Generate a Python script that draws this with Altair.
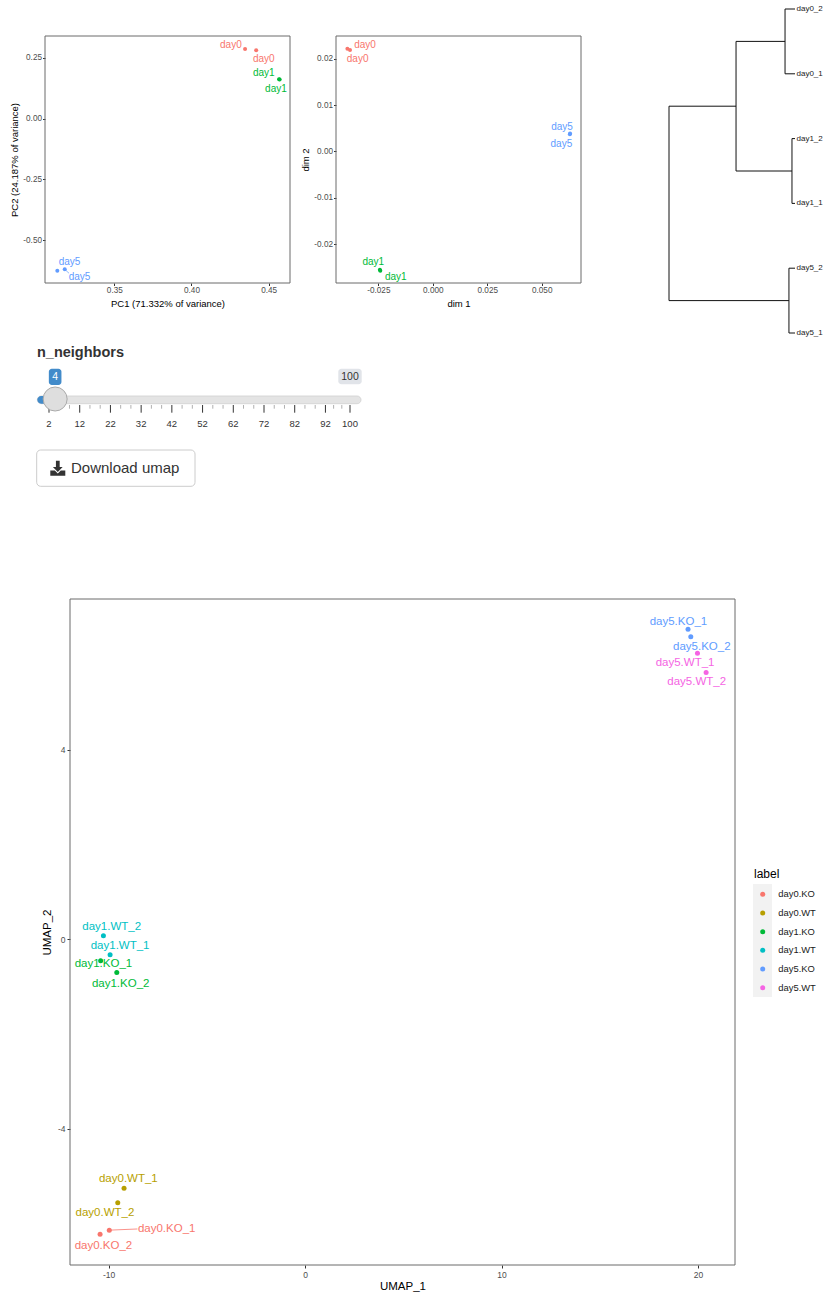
import altair as alt
import pandas as pd

FONT = "Liberation Sans"
MINUS_FIX = "replace(datum.label, '\u2212', '-')"

# ---------------- PCA panel ----------------
pca_groups = ["day0", "day1", "day5"]
pca_colors = ["#F8766D", "#00BA38", "#619CFF"]
pca_sample = ["day0", "day0", "day1", "day1", "day5", "day5"]
pca_pc1 = [0.4347, 0.4419, 0.4567, 0.4571, 0.3131, 0.3179]
pca_pc2 = [0.2870, 0.2817, 0.1625, 0.1618, -0.6264, -0.6206]
pca_lab_x = [0.4255, 0.4468, 0.4468, 0.4547, 0.3210, 0.3275]
pca_lab_y = [0.3023, 0.2446, 0.1870, 0.1235, -0.5893, -0.6510]
pca_seg_group = ["day5"]
pca_seg_x = [0.3179]
pca_seg_y = [-0.6206]
pca_seg_x2 = [0.3207]
pca_seg_y2 = [-0.6371]
pca_x_ticks = [0.35, 0.40, 0.45]
pca_y_ticks = [0.25, 0.0, -0.25, -0.50]
pca_x_domain = [0.30512, 0.4638]
pca_y_domain = [-0.6771, 0.3406]

# ---------------- MDS panel ----------------
mds_sample = ["day0", "day0", "day1", "day1", "day5", "day5"]
mds_d1 = [-0.0392, -0.0380, -0.0243, -0.0241, 0.0630, 0.0629]
mds_d2 = [0.02216, 0.02188, -0.0255, -0.0257, 0.0039, 0.0037]
mds_lab_x = [-0.0311, -0.0345, -0.0273, -0.0170, 0.0593, 0.0590]
mds_lab_y = [0.02295, 0.01987, -0.02381, -0.02705, 0.00528, 0.00168]
mds_x_ticks = [-0.025, 0.0, 0.025, 0.050]
mds_y_ticks = [0.02, 0.01, 0.0, -0.01, -0.02]
mds_x_domain = [-0.04443, 0.06802]
mds_y_domain = [-0.02834, 0.02489]

# ---------------- Dendrogram ----------------
dendro_leaves = ["day0_2", "day0_1", "day1_2", "day1_1", "day5_2", "day5_1"]
dendro_merges = [
    ("day0_2", "day0_1", 0.079),
    ("day1_2", "day1_1", 0.024),
    ("m0", "m1", 0.468),
    ("day5_2", "day5_1", 0.048),
    ("m2", "m3", 1.0),
]

# ---------------- Slider ----------------
slider_label = "n_neighbors"
slider_min, slider_max, slider_value = 2, 100, 4
slider_ticks = [2, 12, 22, 32, 42, 52, 62, 72, 82, 92, 100]
button_text = "Download umap"

# ---------------- UMAP ----------------
umap_groups = ["day0.KO", "day0.WT", "day1.KO", "day1.WT", "day5.KO", "day5.WT"]
umap_colors = ["#F8766D", "#B79F00", "#00BA38", "#00BFC4", "#619CFF", "#F564E3"]
umap_names = ["day5.KO_1", "day5.KO_2", "day5.WT_1", "day5.WT_2",
              "day1.WT_2", "day1.WT_1", "day1.KO_1", "day1.KO_2",
              "day0.WT_1", "day0.WT_2", "day0.KO_1", "day0.KO_2"]
umap_group = ["day5.KO", "day5.KO", "day5.WT", "day5.WT",
              "day1.WT", "day1.WT", "day1.KO", "day1.KO",
              "day0.WT", "day0.WT", "day0.KO", "day0.KO"]
umap_x = [19.49, 19.63, 19.97, 20.41, -10.26, -9.92, -10.40, -9.58, -9.21, -9.53, -9.96, -10.43]
umap_y = [6.544, 6.382, 6.038, 5.629, 0.074, -0.327, -0.454, -0.700, -5.249, -5.559, -6.135, -6.219]
umap_lab_x = [19.00, 20.19, 19.34, 19.93, -9.84, -9.41, -10.26, -9.38, -8.99, -10.18, -7.04, -10.26]
umap_lab_y = [6.705, 6.177, 5.827, 5.432, 0.270, -0.137, -0.523, -0.932, -5.059, -5.764, -6.114, -6.466]
umap_seg_group = ["day0.KO"]
umap_seg_x = [-9.96]
umap_seg_y = [-6.135]
umap_seg_x2 = [-8.53]
umap_seg_y2 = [-6.11]
umap_x_ticks = [-10, 0, 10, 20]
umap_y_ticks = [4, 0, -4]
umap_x_domain = [-11.96, 21.88]
umap_y_domain = [-6.87, 7.18]
legend_title = "label"


def ax(orient, values, title, fmt=None, lab=8.2, tit=9.5, tick=2.5, pad=1,
       ext=11.7, tpad=3.5, offset=0):
    kw = dict(orient=orient, values=values, title=title, grid=False, domain=False,
              tickSize=tick, tickColor="#333333", tickWidth=1, labelFontSize=lab,
              labelColor="#4d4d4d", labelPadding=pad, titleFontSize=tit,
              titleFontWeight="normal", titleColor="#000000", minExtent=ext,
              maxExtent=ext, titlePadding=tpad, labelExpr=MINUS_FIX, offset=offset,
              labelFlush=False, labelFont=FONT, titleFont=FONT)
    if fmt:
        kw["format"] = fmt
    return alt.Axis(**kw)


def one():
    return alt.Data(values=[{}])


def frame(x0, x1, y0, y1):
    return alt.Chart(one()).mark_rect(fillOpacity=0, stroke="#6b6b6b", strokeWidth=1).encode(
        x=alt.value(x0), x2=alt.value(x1), y=alt.value(y0), y2=alt.value(y1))


# ---- PCA layer ----
pca_C = alt.Color("g:N", scale=alt.Scale(domain=pca_groups, range=pca_colors), legend=None)
pX = alt.X("x:Q", scale=alt.Scale(domain=pca_x_domain, range=[0, 245], nice=False, zero=False),
           axis=ax("bottom", pca_x_ticks, "PC1 (71.332% of variance)", ".2f", ext=11.7, tpad=3.5))
pY = alt.Y("y:Q", scale=alt.Scale(domain=pca_y_domain, range=[247, 0], nice=False, zero=False),
           axis=ax("left", pca_y_ticks, "PC2 (24.187% of variance)", ".2f", ext=22.2, tpad=3.3))
pca = alt.layer(
    alt.Chart(pd.DataFrame({"x": pca_seg_x, "y": pca_seg_y, "x2": pca_seg_x2, "y2": pca_seg_y2,
                            "g": pca_seg_group})).mark_rule(strokeWidth=0.7).encode(
        x=pX, y=pY, x2="x2:Q", y2="y2:Q", color=pca_C),
    alt.Chart(pd.DataFrame({"x": pca_pc1, "y": pca_pc2, "g": pca_sample})).mark_circle(
        size=16, opacity=1).encode(x=pX, y=pY, color=pca_C),
    alt.Chart(pd.DataFrame({"x": pca_lab_x, "y": pca_lab_y, "g": pca_sample})).mark_text(
        fontSize=10, align="center", baseline="middle").encode(x=pX, y=pY, color=pca_C, text="g:N"),
)

# ---- MDS layer ----
mX = alt.X("x:Q", scale=alt.Scale(domain=mds_x_domain, range=[291, 536], nice=False, zero=False),
           axis=ax("bottom", mds_x_ticks, "dim 1", ".3f", ext=11.7, tpad=3.5))
mY = alt.Y("y:Q", scale=alt.Scale(domain=mds_y_domain, range=[247, 0], nice=False, zero=False),
           axis=ax("left", mds_y_ticks, "dim 2", ".2f", ext=22.2, tpad=3.3, offset=-291))
mds = alt.layer(
    alt.Chart(pd.DataFrame({"x": mds_d1, "y": mds_d2, "g": mds_sample})).mark_circle(
        size=16, opacity=1).encode(x=mX, y=mY, color=pca_C),
    alt.Chart(pd.DataFrame({"x": mds_lab_x, "y": mds_lab_y, "g": mds_sample})).mark_text(
        fontSize=10, align="center", baseline="middle").encode(x=mX, y=mY, color=pca_C, text="g:N"),
)

# ---- Dendrogram layer ----
pos = {name: (0.0, float(i)) for i, name in enumerate(dendro_leaves)}
segs = []
for k, (a, b, h) in enumerate(dendro_merges):
    (ha, ya), (hb, yb) = pos[a], pos[b]
    segs.append(dict(x=ha, y=ya, x2=h, y2=ya))
    segs.append(dict(x=hb, y=yb, x2=h, y2=yb))
    segs.append(dict(x=h, y=ya, x2=h, y2=yb))
    pos[f"m{k}"] = (h, (ya + yb) / 2)
dX = alt.X("x:Q", scale=alt.Scale(domain=[0, 1], range=[750, 624], nice=False, zero=False), axis=None)
dY = alt.Y("y:Q", scale=alt.Scale(domain=[0, 5], range=[-27, 297], nice=False, zero=False), axis=None)
dendro = alt.layer(
    alt.Chart(pd.DataFrame(segs)).mark_rule(color="#111111", strokeWidth=1).encode(
        x=dX, y=dY, x2="x2:Q", y2="y2:Q"),
    alt.Chart(pd.DataFrame({"x": [0.0] * 6, "y": list(range(6)), "t": dendro_leaves})).mark_text(
        fontSize=8, align="left", baseline="middle", dx=1.5, color="#222222").encode(
        x=dX, y=dY, text="t:N"),
)

# ---- Slider layer ----
sX = alt.X("v:Q", scale=alt.Scale(domain=[slider_min, slider_max], range=[4, 305],
                                  nice=False, zero=False), axis=None)
minor = []
for a, b in zip(slider_ticks[:-1], slider_ticks[1:]):
    minor += [a + (b - a) / 3, a + 2 * (b - a) / 3]
slider = alt.layer(
    alt.Chart(one()).mark_rect(cornerRadius=4, fill="#e4e4e4", stroke="#cfcfcf", strokeWidth=0.8).encode(
        x=alt.value(-7.7), x2=alt.value(316), y=alt.value(360), y2=alt.value(367.7)),
    alt.Chart(pd.DataFrame({"v": [slider_min], "v2": [slider_value]})).mark_rect(
        cornerRadius=4, color="#428bca", xOffset=-11.7).encode(
        x=sX, x2="v2:Q", y=alt.value(360), y2=alt.value(367.7)),
    alt.Chart(pd.DataFrame({"v": minor})).mark_rule(color="#b0b0b0", strokeWidth=1).encode(
        x=sX, y=alt.value(369), y2=alt.value(372.7)),
    alt.Chart(pd.DataFrame({"v": slider_ticks})).mark_rule(color="#333333", strokeWidth=1).encode(
        x=sX, y=alt.value(369), y2=alt.value(376.7)),
    alt.Chart(pd.DataFrame({"v": slider_ticks, "t": [str(t) for t in slider_ticks]})).mark_text(
        fontSize=9.5, color="#333333", baseline="middle").encode(x=sX, y=alt.value(387.7), text="t:N"),
    alt.Chart(pd.DataFrame({"v": [slider_value]})).mark_circle(
        size=576, color="#dedede", opacity=1, stroke="#aaaaaa", strokeWidth=1).encode(
        x=sX, y=alt.value(363)),
    alt.Chart(pd.DataFrame({"v": [slider_value]})).mark_rect(
        cornerRadius=3, color="#428bca", xOffset=-6.3, x2Offset=6.3).encode(
        x=sX, x2="v:Q", y=alt.value(332.7), y2=alt.value(349)),
    alt.Chart(pd.DataFrame({"v": [slider_value], "t": [str(slider_value)]})).mark_text(
        fontSize=10.5, color="#ffffff", baseline="middle").encode(x=sX, y=alt.value(341), text="t:N"),
    alt.Chart(pd.DataFrame({"v": [slider_max]})).mark_rect(
        cornerRadius=3, color="#e1e4e9", xOffset=-11.7, x2Offset=11.7).encode(
        x=sX, x2="v:Q", y=alt.value(332.7), y2=alt.value(348.3)),
    alt.Chart(pd.DataFrame({"v": [slider_max], "t": [str(slider_max)]})).mark_text(
        fontSize=10.5, color="#333333", baseline="middle").encode(x=sX, y=alt.value(340.5), text="t:N"),
)

ui = alt.layer(
    alt.Chart(one()).mark_text(text=slider_label, fontSize=14.5, fontWeight="bold", color="#333333",
                               align="left", baseline="middle").encode(x=alt.value(-8), y=alt.value(316.7)),
    alt.Chart(one()).mark_rect(cornerRadius=4, fill="#ffffff", stroke="#cccccc", strokeWidth=1).encode(
        x=alt.value(-8.3), x2=alt.value(150), y=alt.value(414), y2=alt.value(450.3)),
    alt.Chart(one()).mark_point(
        shape="M-0.25,-1L0.25,-1L0.25,-0.15L0.65,-0.15L0,0.5L-0.65,-0.15L-0.25,-0.15Z"
              "M-1,0.3L-0.4,0.3L0,0.7L0.4,0.3L1,0.3L1,1L-1,1Z",
        size=225, filled=True, color="#333333", opacity=1).encode(x=alt.value(12.8), y=alt.value(432.2)),
    alt.Chart(one()).mark_text(text=button_text, fontSize=15, color="#333333", align="left",
                               baseline="middle").encode(x=alt.value(26), y=alt.value(432.3)),
)

row0 = alt.layer(
    frame(0, 245, 0, 247), frame(291, 536, 0, 247), pca, mds, dendro, slider, ui
).resolve_scale(x="independent", y="independent").properties(width=780, height=247)

# ---- UMAP layer ----
u_C = alt.Color("g:N", scale=alt.Scale(domain=umap_groups, range=umap_colors), legend=None)
uX = alt.X("x:Q", scale=alt.Scale(domain=umap_x_domain, range=[25, 690], nice=False, zero=False),
           axis=ax("bottom", umap_x_ticks, "UMAP_1", lab=8.5, tit=11.5, tick=3, pad=2, ext=13.5, tpad=2))
uY = alt.Y("y:Q", scale=alt.Scale(domain=umap_y_domain, range=[666, 0], nice=False, zero=False),
           axis=ax("left", umap_y_ticks, "UMAP_2", lab=8.5, tit=11.5, tick=3, pad=2, ext=13, tpad=5,
                   offset=-25))
umap = alt.layer(
    alt.Chart(pd.DataFrame({"x": umap_seg_x, "y": umap_seg_y, "x2": umap_seg_x2, "y2": umap_seg_y2,
                            "g": umap_seg_group})).mark_rule(strokeWidth=0.8).encode(
        x=uX, y=uY, x2="x2:Q", y2="y2:Q", color=u_C),
    alt.Chart(pd.DataFrame({"x": umap_x, "y": umap_y, "g": umap_group})).mark_circle(
        size=25, opacity=1).encode(x=uX, y=uY, color=u_C),
    alt.Chart(pd.DataFrame({"x": umap_lab_x, "y": umap_lab_y, "g": umap_group, "t": umap_names})).mark_text(
        fontSize=11.5, align="center", baseline="middle").encode(x=uX, y=uY, color=u_C, text="t:N"),
)

lY = alt.Y("g:N", scale=alt.Scale(domain=umap_groups, range=[295.3, 388.7], padding=0), axis=None)
legend = alt.layer(
    alt.Chart(one()).mark_text(text=legend_title, fontSize=12, color="#000000", align="left",
                               baseline="middle").encode(x=alt.value(709), y=alt.value(275)),
    alt.Chart(one()).mark_rect(fill="#f2f2f2").encode(
        x=alt.value(708), x2=alt.value(727), y=alt.value(285), y2=alt.value(398)),
    alt.Chart(pd.DataFrame({"g": umap_groups})).mark_circle(size=25, opacity=1).encode(
        x=alt.value(717.7), y=lY, color=u_C),
    alt.Chart(pd.DataFrame({"g": umap_groups})).mark_text(
        fontSize=9.4, color="#1a1a1a", align="left", baseline="middle").encode(
        x=alt.value(733.3), y=lY, text="g:N"),
)

row1 = alt.layer(frame(25, 690, 0, 666), umap, legend).resolve_scale(
    x="independent", y="independent").properties(width=780, height=666)

chart = alt.vconcat(row0, row1, spacing=316, bounds="flush").resolve_scale(
    color="independent").properties(
    padding={"left": 9, "top": 4, "right": 4, "bottom": 4}).configure(
    font=FONT).configure_view(stroke="transparent")

chart.save("out.html", embed_options={"renderer": "svg", "actions": False})
